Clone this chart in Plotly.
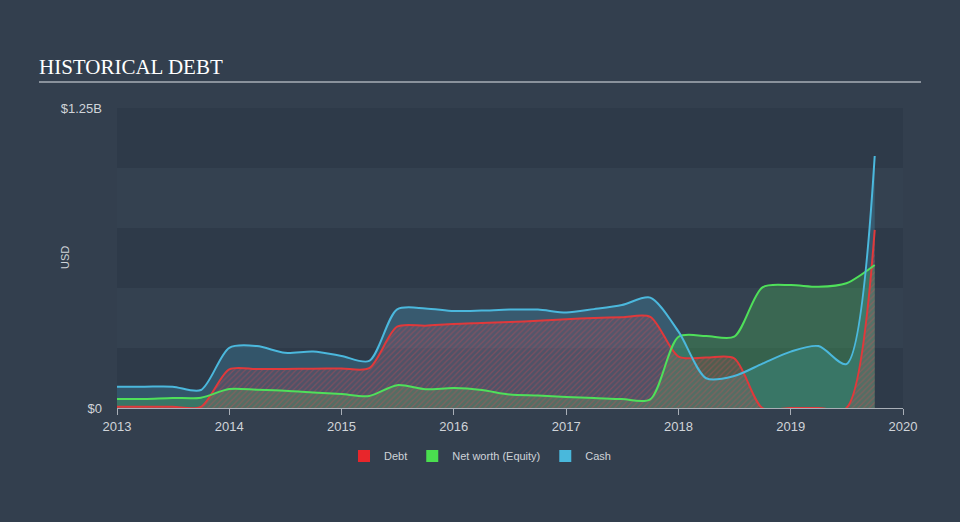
import plotly.graph_objects as go

quarters = ["2013-01-01", "2013-04-01", "2013-07-01", "2013-10-01",
            "2014-01-01", "2014-04-01", "2014-07-01", "2014-10-01",
            "2015-01-01", "2015-04-01", "2015-07-01", "2015-10-01",
            "2016-01-01", "2016-04-01", "2016-07-01", "2016-10-01",
            "2017-01-01", "2017-04-01", "2017-07-01", "2017-10-01",
            "2018-01-01", "2018-04-01", "2018-07-01", "2018-10-01",
            "2019-01-01", "2019-04-01", "2019-07-01", "2019-10-01"]

debt = [0.005, 0.005, 0.005, 0.005,
        0.161, 0.162, 0.163, 0.164,
        0.165, 0.166, 0.339, 0.343,
        0.350, 0.354, 0.358, 0.364,
        0.370, 0.375, 0.378, 0.380,
        0.214, 0.210, 0.207, 0.0,
        0.0, 0.0, 0.0, 0.742]

equity = [0.037, 0.038, 0.042, 0.043,
          0.079, 0.076, 0.072, 0.065,
          0.058, 0.050, 0.095, 0.078,
          0.083, 0.075, 0.056, 0.052,
          0.046, 0.042, 0.037, 0.036,
          0.297, 0.300, 0.297, 0.503,
          0.512, 0.505, 0.520, 0.596]

cash = [0.089, 0.089, 0.089, 0.075,
        0.251, 0.258, 0.230, 0.235,
        0.217, 0.196, 0.411, 0.415,
        0.404, 0.406, 0.410, 0.410,
        0.398, 0.412, 0.429, 0.460,
        0.318, 0.124, 0.133, 0.185,
        0.235, 0.258, 0.183, 1.050]

B = 1e9
debt_v = [v * B for v in debt]
equity_v = [v * B for v in equity]
cash_v = [v * B for v in cash]

year_ticks = ["2013-01-01", "2014-01-01", "2015-01-01", "2016-01-01",
              "2017-01-01", "2018-01-01", "2019-01-01", "2020-01-01"]
year_labels = ["2013", "2014", "2015", "2016", "2017", "2018", "2019", "2020"]
y_ticks = [0, 1.25e9]
y_labels = ["$0", "$1.25B"]
band_edges = [0, 0.25e9, 0.5e9, 0.75e9, 1.0e9, 1.25e9]

RED = "#e0393b"
GREEN = "#4fe05a"
BLUE = "#4bb8dd"
FONT = "Liberation Sans, Arial"
SPL = dict(shape="spline", smoothing=0.8)

fig = go.Figure()

# fills (no lines)
fig.add_trace(go.Scatter(
    x=quarters, y=cash_v, mode="none", line=SPL,
    fill="tozeroy", fillcolor="rgba(75,184,221,0.22)", showlegend=False, hoverinfo="skip"))
fig.add_trace(go.Scatter(
    x=quarters, y=equity_v, mode="none", line=SPL,
    fill="tozeroy", fillcolor="rgba(79,224,90,0.24)", showlegend=False, hoverinfo="skip"))
fig.add_trace(go.Scatter(
    x=quarters, y=debt_v, mode="none", line=SPL,
    fill="tozeroy", fillcolor="rgba(224,57,59,0.12)",
    fillpattern=dict(shape="/", fgcolor="rgba(225,70,80,0.65)", bgcolor="rgba(200,70,90,0.18)",
                     size=4, solidity=0.3),
    showlegend=False, hoverinfo="skip"))

# lines on top
fig.add_trace(go.Scatter(x=quarters, y=debt_v, mode="lines", line=dict(color=RED, width=2, **SPL),
                         showlegend=False, hoverinfo="skip"))
fig.add_trace(go.Scatter(x=quarters, y=equity_v, mode="lines", line=dict(color=GREEN, width=2, **SPL),
                         showlegend=False, hoverinfo="skip"))
fig.add_trace(go.Scatter(x=quarters, y=cash_v, mode="lines", line=dict(color=BLUE, width=2, **SPL),
                         showlegend=False, hoverinfo="skip"))

for name, col in [("Debt", "#e8262b"), ("Net worth (Equity)", "#4ade4f"), ("Cash", "#49b8dc")]:
    fig.add_trace(go.Scatter(x=[None], y=[None], mode="markers", name=name,
                             marker=dict(symbol="square", size=14, color=col)))

shapes = []
for i in range(0, len(band_edges) - 1, 2):
    shapes.append(dict(type="rect", xref="paper", yref="y", x0=0, x1=1,
                       y0=band_edges[i], y1=band_edges[i + 1],
                       fillcolor="#2e3a49", line=dict(width=0), layer="below"))
shapes.append(dict(type="line", xref="paper", yref="paper", x0=-78 / 786, x1=804 / 786,
                   y0=1 + 26 / 300, y1=1 + 26 / 300, line=dict(color="#a9afb7", width=1.5)))

fig.update_layout(
    width=960, height=522,
    margin=dict(l=117, r=57, t=108, b=114, autoexpand=False),
    paper_bgcolor="#333f4e",
    plot_bgcolor="#344150",
    shapes=shapes,
    showlegend=True,
    legend=dict(orientation="h", xref="container", yref="container", x=0.5, y=1 - 456 / 522,
                xanchor="center", yanchor="middle", font=dict(family=FONT, size=11, color="#cfd3d8"),
                bgcolor="rgba(0,0,0,0)", itemsizing="constant", tracegroupgap=0),
    annotations=[dict(text="HISTORICAL DEBT", xref="paper", yref="paper", x=-80 / 786, y=1 + 41 / 300,
                      xanchor="left", yanchor="middle", showarrow=False,
                      font=dict(family="Liberation Serif, Times New Roman, serif", size=21, color="#ffffff")),
                 dict(text="USD", xref="paper", yref="paper", x=-52 / 786, y=0.5, textangle=-90,
                      xanchor="center", yanchor="middle", showarrow=False,
                      font=dict(family=FONT, size=11, color="#d0d4d9"))],
    xaxis=dict(range=["2013-01-01", "2020-01-01"], tickvals=year_ticks, ticktext=year_labels,
               showgrid=False, zeroline=False, showline=True, linecolor="#a9afb7", linewidth=1,
               ticks="outside", ticklen=6, tickcolor="#a9afb7",
               tickfont=dict(family=FONT, size=13, color="#d0d4d9")),
    yaxis=dict(range=[0, 1.25e9], tickvals=y_ticks, ticktext=y_labels, showgrid=False, zeroline=False,
               showline=False, ticks="", ticklabelstandoff=14,
               tickfont=dict(family=FONT, size=13, color="#d0d4d9")),
)

fig.write_html("out.html")
